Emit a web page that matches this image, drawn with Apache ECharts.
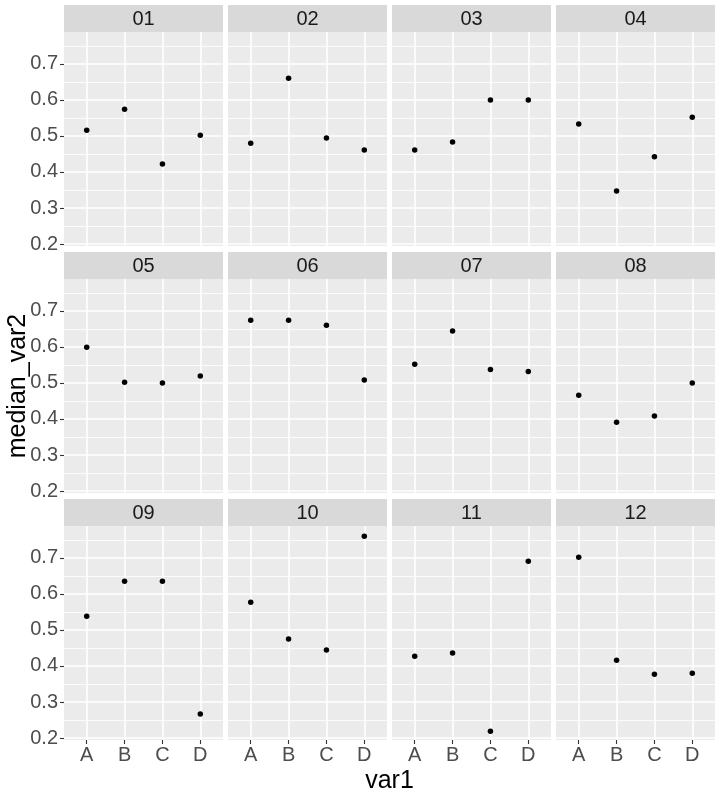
<!DOCTYPE html>
<html>
<head>
<meta charset="utf-8">
<script src="https://cdn.jsdelivr.net/npm/echarts@6/dist/echarts.min.js"></script>
<style>
html,body{margin:0;padding:0;background:#fff;}
#chart{width:720px;height:792px;}
</style>
</head>
<body>
<div id="chart"></div>
<script>
// ---- data ----
const panels = ['01','02','03','04','05','06','07','08','09','10','11','12'];
const categories = ['A','B','C','D'];
const yTicks = [0.2, 0.3, 0.4, 0.5, 0.6, 0.7];
const yMinorTicks = [0.25, 0.35, 0.45, 0.55, 0.65, 0.75];
const m01 = [0.516, 0.574, 0.422, 0.502];
const m02 = [0.480, 0.660, 0.494, 0.461];
const m03 = [0.461, 0.483, 0.600, 0.600];
const m04 = [0.533, 0.347, 0.442, 0.552];
const m05 = [0.599, 0.502, 0.500, 0.519];
const m06 = [0.674, 0.674, 0.660, 0.508];
const m07 = [0.552, 0.644, 0.537, 0.532];
const m08 = [0.466, 0.391, 0.408, 0.500];
const m09 = [0.538, 0.635, 0.635, 0.267];
const m10 = [0.577, 0.475, 0.444, 0.760];
const m11 = [0.427, 0.436, 0.219, 0.691];
const m12 = [0.702, 0.416, 0.377, 0.380];
const values = [m01,m02,m03,m04,m05,m06,m07,m08,m09,m10,m11,m12];
const xTitle = 'var1';
const yTitle = 'median_var2';

// ---- layout ----
const FONT = "'Liberation Sans', Arial, sans-serif";
const colLeft = [64, 228, 392, 556];
const panelW = 159;
const stripTop = [5, 252, 499];
const stripH = 27;
const panelH = 214;
const yMin = 0.1945, yMax = 0.7885;
const catIdx = categories.map((c, i) => i);

const grids = [], xAxes = [], yAxes = [], series = [], graphics = [];
panels.forEach((p, k) => {
  const r = Math.floor(k / 4), c = k % 4;
  const left = colLeft[c], top = stripTop[r] + stripH;
  grids.push({left: left, top: top, width: panelW, height: panelH, show: true,
    backgroundColor: '#EBEBEB', borderWidth: 0, containLabel: false});
  const bottomRow = r === 2, leftCol = c === 0;
  xAxes.push({
    type: 'value', gridIndex: k, min: -0.6, max: 3.6,
    axisLine: {show: false},
    axisTick: {show: bottomRow, customValues: catIdx, length: 4, lineStyle: {color: '#333333', width: 1.1}},
    axisLabel: {show: bottomRow, customValues: catIdx, formatter: v => categories[Math.round(v)],
      fontSize: 20, color: '#4D4D4D', fontFamily: FONT, margin: 5},
    splitLine: {show: true, lineStyle: {color: '#FFFFFF', width: 1.6}},
    minorSplitLine: {show: false}
  });
  // minor grid axis
  yAxes.push({
    type: 'value', gridIndex: k, min: yMin, max: yMax, position: 'right',
    axisLine: {show: false},
    axisTick: {show: false, customValues: yMinorTicks},
    axisLabel: {show: false, customValues: yMinorTicks},
    splitLine: {show: true, lineStyle: {color: '#FFFFFF', width: 0.8}}
  });
  yAxes.push({
    type: 'value', gridIndex: k, min: yMin, max: yMax, position: 'left',
    axisLine: {show: false},
    axisTick: {show: leftCol, customValues: yTicks, length: 4, lineStyle: {color: '#333333', width: 1.1}},
    axisLabel: {show: leftCol, customValues: yTicks, formatter: v => v.toFixed(1),
      fontSize: 20, color: '#4D4D4D', fontFamily: FONT, margin: 6},
    splitLine: {show: true, lineStyle: {color: '#FFFFFF', width: 1.6}}
  });
  series.push({
    type: 'scatter', xAxisIndex: k, yAxisIndex: 2 * k + 1,
    symbol: 'circle', symbolSize: 5.5,
    itemStyle: {color: '#000000', opacity: 1},
    emphasis: {disabled: true},
    data: values[k].map((v, i) => [catIdx[i], v]),
    silent: true, z: 5
  });
  graphics.push({type: 'rect', shape: {x: left, y: stripTop[r], width: panelW, height: stripH},
    style: {fill: '#D9D9D9'}, silent: true});
  graphics.push({type: 'text', x: left + panelW / 2, y: stripTop[r] + stripH / 2 + 1.3,
    style: {text: p, fill: '#1A1A1A', font: '20px ' + FONT, align: 'center', verticalAlign: 'middle'}, silent: true});
});
graphics.push({type: 'text', x: (colLeft[0] + colLeft[3] + panelW) / 2, y: 780.8,
  style: {text: xTitle, fill: '#000000', font: '25px ' + FONT, align: 'center', verticalAlign: 'middle'}});
graphics.push({type: 'text', x: 18, y: stripTop[0] + stripH + (stripTop[2] + stripH + panelH - stripTop[0] - stripH) / 2,
  rotation: Math.PI / 2,
  style: {text: yTitle, fill: '#000000', font: '25px ' + FONT, align: 'center', verticalAlign: 'middle'}});

const chart = echarts.init(document.getElementById('chart'), null, {renderer: 'canvas'});
chart.setOption({
  animation: false,
  backgroundColor: '#FFFFFF',
  grid: grids, xAxis: xAxes, yAxis: yAxes, series: series,
  graphic: graphics
});
</script>
</body>
</html>
